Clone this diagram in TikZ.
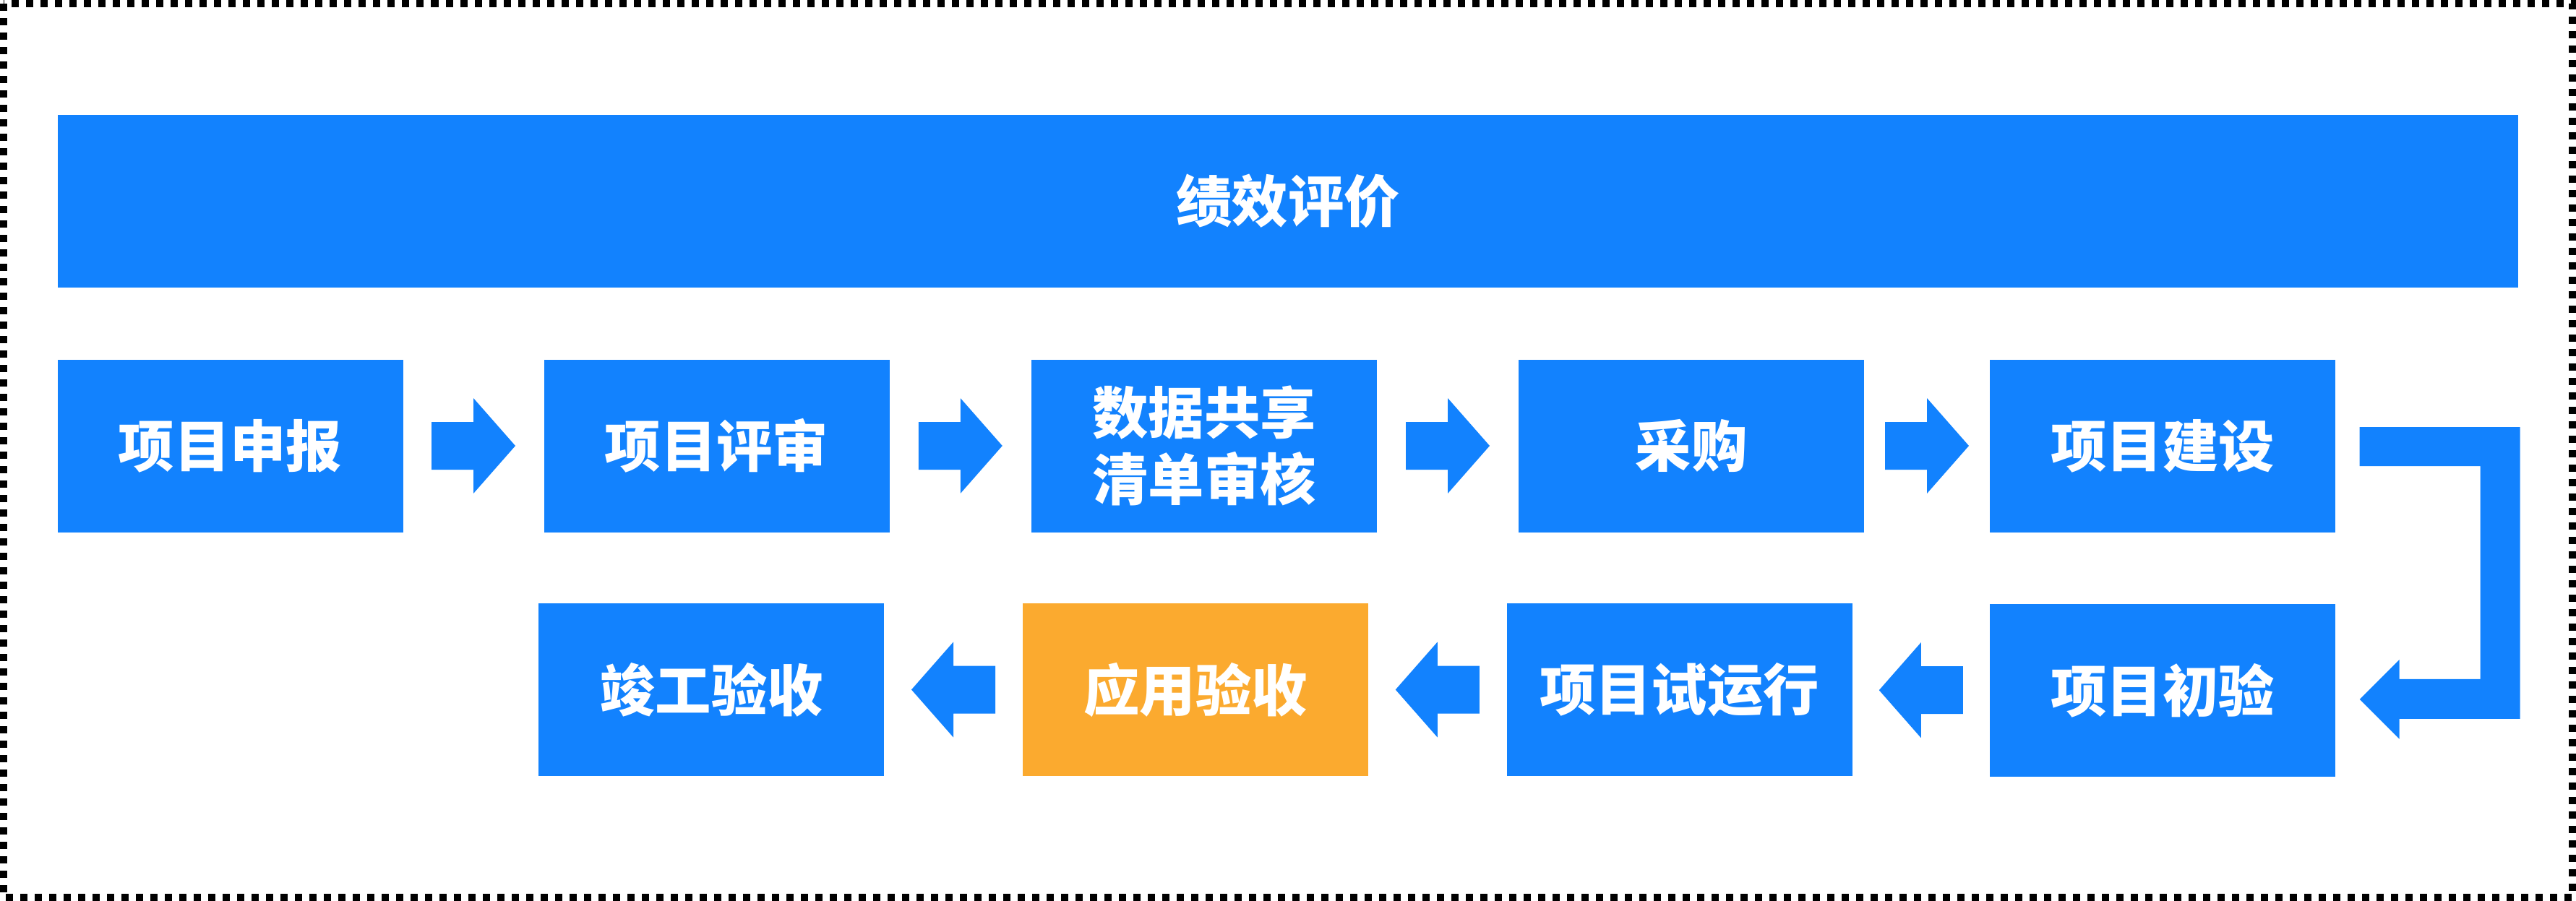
\documentclass[tikz,border=0pt]{standalone}
\usepackage{fontspec}
\newfontfamily\cjk{Noto Sans CJK SC}
\usetikzlibrary{positioning, calc}
\definecolor{flowblue}{HTML}{1282FE}
\definecolor{floworange}{HTML}{FBAA2F}
\tikzset{box/.style = {rectangle, fill=flowblue, text=white, inner sep=0pt,
           minimum width=4.78cm, minimum height=2.39cm, align=center,
           font=\cjk\bfseries\fontsize{22}{26}\selectfont},
         flow/.style = {fill=flowblue}}
% block arrow half way between two nodes, [1] to the right, [-1] to the left
\newcommand{\flowarrow}[3][1]{%
  \begin{scope}[shift={($(#2)!0.5!(#3)$)}, xscale=#1]
    \fill[flow] (-0.58,0.33) -- (0,0.33) -- (0,0.66) -- (0.58,0) -- (0,-0.66) -- (0,-0.33) -- (-0.58,-0.33) -- cycle;
  \end{scope}}

\begin{document}
\begin{tikzpicture}
    \fill[white] (0,0) rectangle (35.64,-12.47);
    \useasboundingbox (0,0) rectangle (35.64,-12.47);
    \draw[line width=0.1cm, dash pattern=on 0.1cm off 0.1cm] (0.05,-0.05) rectangle (35.59,-12.42);

    \node[box, minimum width=34.04cm] (perf) at (17.82,-2.785) {绩效评价};
    \node[box] (b1) at (3.185,-6.17) {项目申报};
    \node[box] (b2) at (9.915,-6.17) {项目评审};
    \node[box] (b3) at (16.66,-6.17) {数据共享\\清单审核};
    \node[box] (b4) at (23.40,-6.17) {采购};
    \node[box] (b5) at (29.92,-6.17) {项目建设};
    \node[box, below=0.985cm of b5] (c4) {项目初验};
    \node[box] (c3) at (23.235,-9.545) {项目试运行};
    \node[box, fill=floworange] (c2) at (16.54,-9.545) {应用验收};
    \node[box] (c1) at (9.84,-9.545) {竣工验收};

    \flowarrow{b1}{b2}
    \flowarrow{b2}{b3}
    \flowarrow{b3}{b4}
    \flowarrow{b4}{b5}
    \flowarrow[-1]{c4}{c3}
    \flowarrow[-1]{c3}{c2}
    \flowarrow[-1]{c2}{c1}
    % bent arrow down the right side
    \fill[flow] ($(b5.east)+(0.33,0.26)$) -- ($(b5.east)+(2.55,0.26)$) -- ($(c4.east)+(2.55,-0.39)$)
        -- ($(c4.east)+(0.88,-0.39)$) -- ($(c4.east)+(0.88,-0.67)$) -- ($(c4.east)+(0.33,-0.12)$)
        -- ($(c4.east)+(0.88,0.43)$) -- ($(c4.east)+(0.88,0.16)$) -- ($(c4.east)+(2.00,0.16)$)
        -- ($(b5.east)+(2.00,-0.28)$) -- ($(b5.east)+(0.33,-0.28)$) -- cycle;
\end{tikzpicture}
\end{document}
